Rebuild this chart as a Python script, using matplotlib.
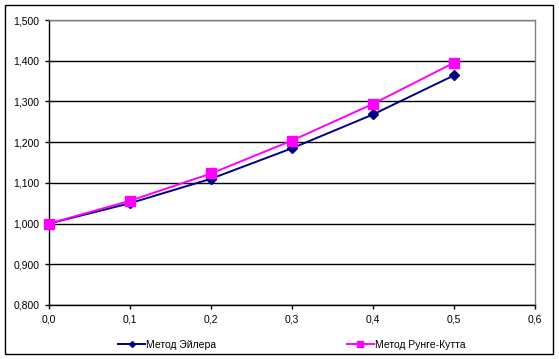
import matplotlib

matplotlib.use("Agg")

import matplotlib.pyplot as plt
from matplotlib.patches import Rectangle
from matplotlib.ticker import FuncFormatter, MultipleLocator

plt.rcParams["font.family"] = ["Liberation Sans", "DejaVu Sans"]

# Values
x_vals = [0.0, 0.1, 0.2, 0.3, 0.4, 0.5]
euler = [1.000, 1.050, 1.110, 1.185, 1.268, 1.364]
runge_kutta = [1.000, 1.056, 1.123, 1.204, 1.294, 1.395]
labels = ["Метод Эйлера", "Метод Рунге-Кутта"]

W, H = 559, 359
fig = plt.figure(figsize=(W / 100, H / 100), dpi=100)
ax = fig.add_axes([49 / W, 1 - 305 / H, (535 - 49) / W, (305 - 20) / H])

ax.plot(x_vals, euler, color="#000080", lw=1.4, marker="D", ms=5,
        label=labels[0], clip_on=False, zorder=3)
ax.plot(x_vals, runge_kutta, color="#FF00FF", lw=1.4, marker="s", ms=6.5,
        label=labels[1], clip_on=False, zorder=4)

ax.set_xlim(0, 0.6)
ax.set_ylim(0.8, 1.5)
ax.xaxis.set_major_locator(MultipleLocator(0.1))
ax.yaxis.set_major_locator(MultipleLocator(0.1))
ax.xaxis.set_major_formatter(FuncFormatter(lambda v, p: f"{v:.1f}".replace(".", ",")))
ax.yaxis.set_major_formatter(FuncFormatter(lambda v, p: f"{v:.3f}".replace(".", ",")))
ax.grid(axis="y", color="black", lw=1)
ax.set_axisbelow(True)
ax.tick_params(labelsize=7.5, length=3, width=1, color="black", pad=4)

for side in ("left", "bottom"):
    ax.spines[side].set_color("black")
    ax.spines[side].set_linewidth(1)
for side in ("top", "right"):
    ax.spines[side].set_color("#808080")
    ax.spines[side].set_linewidth(1)

fig.legend(loc="center", bbox_to_anchor=(0.522, 1 - 345 / H), ncol=2,
           frameon=False, fontsize=7.5, handlelength=2.6, handletextpad=0.1,
           columnspacing=12.5, markerscale=0.6)

fig.patches.append(Rectangle((5 / W, 5 / H), 548 / W, 349 / H, transform=fig.transFigure,
                             fill=False, edgecolor="black", lw=1))

fig.savefig("out.png", dpi=100, facecolor="white")
